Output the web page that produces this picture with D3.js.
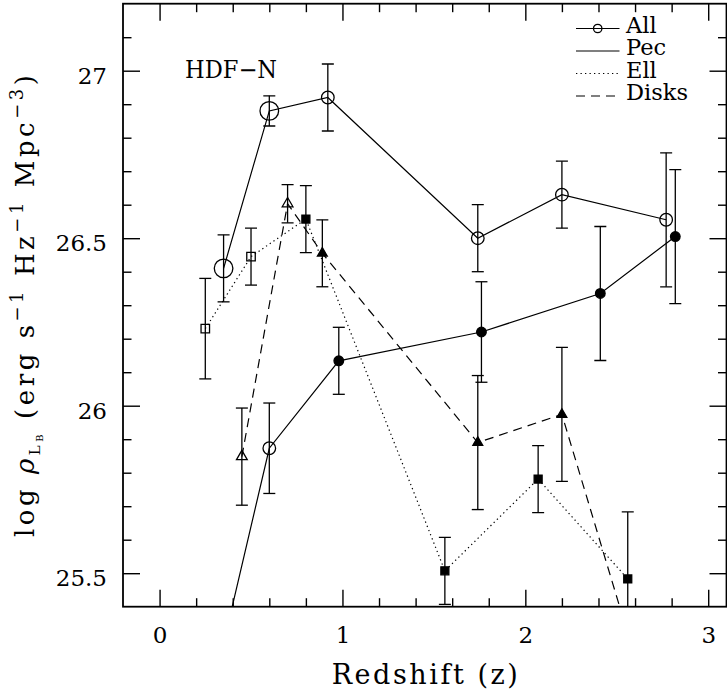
<!DOCTYPE html>
<html>
<head>
<meta charset="utf-8">
<script src="https://cdn.jsdelivr.net/npm/d3@7"></script>
<style>
  body { margin: 0; background: #fff; }
  svg { display: block; }
  text { font-family: "DejaVu Serif", serif; fill: #000; }
</style>
</head>
<body>
<svg id="chart" width="727" height="694"></svg>
<script>
// B-band luminosity density (log rho_LB) versus redshift, HDF-N, by morphology.
const allZ   = [0.35, 0.60, 0.92, 1.74, 2.20, 2.77];
const allLum = [26.41, 26.88, 26.92, 26.50, 26.63, 26.555];
const allErr = [0.10, 0.045, 0.10, 0.10, 0.10, 0.20];

const pecZ   = [0.35, 0.60, 0.98, 1.76, 2.41, 2.82];
const pecLum = [25.29, 25.873, 26.134, 26.22, 26.335, 26.505];
const pecErr = [null, 0.135, 0.10, 0.15, 0.20, 0.20];

const ellZ   = [0.25, 0.50, 0.80, 1.56, 2.07, 2.56];
const ellLum = [26.23, 26.445, 26.557, 25.507, 25.781, 25.483];
const ellErr = [0.15, 0.085, 0.10, 0.10, 0.10, 0.20];

const diskZ   = [0.45, 0.70, 0.89, 1.74, 2.20, 2.56];
const diskLum = [25.848, 26.603, 26.455, 25.89, 25.974, 25.32];
const diskErr = [0.145, 0.057, 0.10, 0.20, 0.20, null];

const xMajor = [0, 1, 2, 3];
const yMajor = [25.5, 26, 26.5, 27];
const legendNames = ["All", "Pec", "Ell", "Disks"];
const fieldName = "HDF\u2212N";
const xTitle = "Redshift (z)";

const svg = d3.select("#chart");
const box = { left: 123, right: 726.5, top: 3.7, bottom: 606.7 };
const x = d3.scaleLinear().domain([-0.2, 3.1]).range([box.left, box.right]);
const y = d3.scaleLinear().domain([25.4, 27.2]).range([box.bottom, box.top]);

const near = (a, b) => Math.abs(a - b) < 1e-6;
const xMinor = d3.range(0, 3.01, 0.2).filter(v => !xMajor.some(m => near(m, v)));
const yMinor = d3.range(25.5, 27.15, 0.1).filter(v => !yMajor.some(m => near(m, v)));

// ---- axes: inward ticks on all four sides ----
function tickSet(axis, transform, values, len, pad, labelled) {
  const g = svg.append("g")
    .attr("transform", transform)
    .call(axis.tickValues(values).tickSizeInner(-len).tickSizeOuter(0)
      .tickPadding(pad).tickFormat(labelled ? (d => String(d)) : ""));
  g.select(".domain").remove();
  g.attr("font-family", null).attr("font-size", null);
  g.selectAll(".tick line").attr("stroke", "#000").attr("stroke-width", 1.4);
  g.selectAll(".tick text").attr("font-size", 23).attr("fill", "#000");
  return g;
}
const MAJ = 17, MIN = 8.5;
tickSet(d3.axisBottom(x), `translate(0,${box.bottom})`, xMajor, MAJ, 20, true);
tickSet(d3.axisBottom(x), `translate(0,${box.bottom})`, xMinor, MIN, 0, false);
tickSet(d3.axisTop(x), `translate(0,${box.top})`, xMajor, MAJ, 0, false);
tickSet(d3.axisTop(x), `translate(0,${box.top})`, xMinor, MIN, 0, false);
tickSet(d3.axisLeft(y), `translate(${box.left},0)`, yMajor, MAJ, 16, true)
  .selectAll(".tick text").attr("dy", "0.54em");
tickSet(d3.axisLeft(y), `translate(${box.left},0)`, yMinor, MIN, 0, false);
tickSet(d3.axisRight(y), `translate(${box.right},0)`, yMajor, MAJ, 0, false);
tickSet(d3.axisRight(y), `translate(${box.right},0)`, yMinor, MIN, 0, false);

svg.append("rect")
  .attr("x", box.left).attr("y", box.top)
  .attr("width", box.right - box.left).attr("height", box.bottom - box.top)
  .attr("fill", "none").attr("stroke", "#000").attr("stroke-width", 1.8);

svg.append("defs").append("clipPath").attr("id", "plotClip")
  .append("rect")
  .attr("x", box.left).attr("y", box.top)
  .attr("width", box.right - box.left).attr("height", box.bottom - box.top);

const plot = svg.append("g").attr("clip-path", "url(#plotClip)");

// ---- series ----
const DOTS = "1.3,3.2", DASHES = "9,6";

function drawSeries(zs, vals, errs, dash, marker) {
  const pts = zs.map((z, i) => ({ z, v: vals[i], e: errs[i], i }));
  plot.append("path")
    .datum(pts)
    .attr("fill", "none").attr("stroke", "#000").attr("stroke-width", 1.2)
    .attr("stroke-dasharray", dash)
    .attr("d", d3.line().x(d => x(d.z)).y(d => y(d.v)));

  const eb = plot.append("g").attr("stroke", "#000").attr("stroke-width", 1.3);
  pts.filter(d => d.e != null).forEach(d => {
    const cx = x(d.z), y1 = y(d.v - d.e), y2 = y(d.v + d.e);
    eb.append("line").attr("x1", cx).attr("x2", cx).attr("y1", y1).attr("y2", y2);
    eb.append("line").attr("x1", cx - 6).attr("x2", cx + 6).attr("y1", y1).attr("y2", y1);
    eb.append("line").attr("x1", cx - 6).attr("x2", cx + 6).attr("y1", y2).attr("y2", y2);
  });

  const mk = plot.append("g");
  pts.forEach(d => marker(mk, x(d.z), y(d.v), d.i));
}

function circle(g, cx, cy, r, filled) {
  g.append("circle").attr("cx", cx).attr("cy", cy).attr("r", r)
    .attr("fill", filled ? "#000" : "none").attr("stroke", "#000").attr("stroke-width", 1.3);
}
function symbol(g, type, size, cx, cy, filled) {
  g.append("path")
    .attr("d", d3.symbol().type(type).size(size)())
    .attr("transform", `translate(${cx},${cy})`)
    .attr("fill", filled ? "#000" : "none").attr("stroke", "#000").attr("stroke-width", 1.3);
}

// All galaxies: open circles, the two lowest-z bins drawn larger
drawSeries(allZ, allLum, allErr, null, (g, cx, cy, i) => circle(g, cx, cy, i < 2 ? 9.3 : 6.3, false));
// Peculiars: solid line, open circle then filled circles
drawSeries(pecZ, pecLum, pecErr, null, (g, cx, cy, i) => {
  if (i < 2) circle(g, cx, cy, 6.3, false); else circle(g, cx, cy, 4.8, true);
});
// Ellipticals: dotted line, open then filled squares
drawSeries(ellZ, ellLum, ellErr, DOTS, (g, cx, cy, i) =>
  symbol(g, d3.symbolSquare, i < 2 ? 72 : 64, cx, cy, i >= 2));
// Disks: dashed line, open then filled triangles
drawSeries(diskZ, diskLum, diskErr, DASHES, (g, cx, cy, i) =>
  symbol(g, d3.symbolTriangle, i < 2 ? 50 : 42, cx, cy, i >= 2));

// ---- legend ----
const legendDash = [null, null, DOTS, DASHES];
const leg = svg.append("g");
legendNames.forEach((name, i) => {
  const base = 32.5 + i * 22.5;
  const ly = base - 4;
  leg.append("line").attr("x1", 576).attr("x2", 619.5).attr("y1", ly).attr("y2", ly)
    .attr("stroke", "#000").attr("stroke-width", 1.2).attr("stroke-dasharray", legendDash[i]);
  if (i === 0) circle(leg, 597.7, ly, 4.2, false);
  leg.append("text").attr("x", 626).attr("y", base).attr("font-size", 22.5).text(name);
});

// ---- annotations and titles ----
svg.append("text").attr("x", 185).attr("y", 78.3).attr("font-size", 24)
  .attr("textLength", 92).attr("lengthAdjust", "spacingAndGlyphs").text(fieldName);

svg.append("text")
  .attr("x", (box.left + box.right) / 2).attr("y", 684)
  .attr("text-anchor", "middle").attr("font-size", 27)
  .attr("textLength", 186).attr("lengthAdjust", "spacing")
  .text(xTitle);

const yl = svg.append("text")
  .attr("transform", "translate(34,306) rotate(-90)")
  .attr("text-anchor", "middle").attr("font-size", 26)
  .attr("textLength", 462).attr("lengthAdjust", "spacing");
yl.append("tspan").text("log ");
yl.append("tspan").attr("font-style", "italic").text("\u03C1");
yl.append("tspan").attr("font-size", 15).attr("dy", 6).text("L");
yl.append("tspan").attr("font-size", 10).attr("dy", 3).text("B");
yl.append("tspan").attr("dy", -9).text(" (erg s");
yl.append("tspan").attr("font-size", 18).attr("dy", -11).text("\u22121");
yl.append("tspan").attr("dy", 11).text(" Hz");
yl.append("tspan").attr("font-size", 18).attr("dy", -11).text("\u22121");
yl.append("tspan").attr("dy", 11).text(" Mpc");
yl.append("tspan").attr("font-size", 18).attr("dy", -11).text("\u22123");
yl.append("tspan").attr("dy", 11).text(")");
</script>
</body>
</html>
